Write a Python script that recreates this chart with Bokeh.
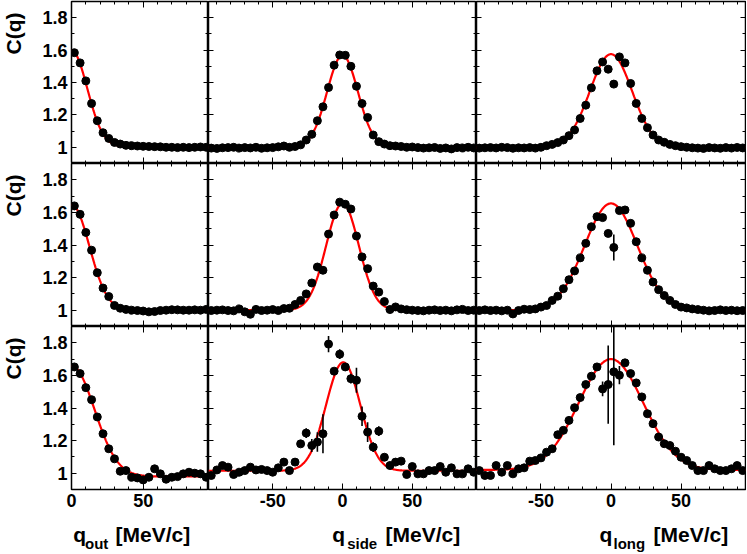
import numpy as np
from bokeh.plotting import figure
from bokeh.layouts import gridplot
from bokeh.models import Range1d, LinearAxis, FixedTicker, CustomLabelingPolicy
from bokeh.core.properties import value
from bokeh.embed import file_html
from bokeh.resources import INLINE

# ---------------- bin centres (MeV/c) ----------------
q_out = [2, 6, 10, 14, 18, 22, 26, 30, 34, 38, 42, 46,
         50, 54, 58, 62, 66, 70, 74, 78, 82, 86, 90, 94]
q_sym = [-94, -90, -86, -82, -78, -74, -70, -66, -62, -58, -54, -50,
         -46, -42, -38, -34, -30, -26, -22, -18, -14, -10, -6, -2,
         2, 6, 10, 14, 18, 22, 26, 30, 34, 38, 42, 46,
         50, 54, 58, 62, 66, 70, 74, 78, 82, 86, 90, 94]

# ---------------- ticks ----------------
x_ticks_out = [0, 50]
x_minor_out = [10, 20, 30, 40, 60, 70, 80, 90]
x_ticks_sym = [-50, 0, 50]
x_minor_sym = [-90, -80, -70, -60, -40, -30, -20, -10, 10, 20, 30, 40, 60, 70, 80, 90]
x_tick_labels = {-50: "-50", 0: "0", 50: "50"}
y_ticks = [1.0, 1.2, 1.4, 1.6, 1.8]
y_minor = [0.9, 1.1, 1.3, 1.5, 1.7, 1.9]
y_tick_labels = {1: "1", 1.2: "1.2", 1.4: "1.4", 1.6: "1.6", 1.8: "1.8"}

# ---------------- axis titles ----------------
y_title = "C(q)"
x_title_main = "q"
x_title_subs = ["out", "side", "long"]
x_title_unit = "[MeV/c]"

# ---------------- correlation functions C(q) ----------------
c_out_row1 = [1.584, 1.521, 1.41, 1.27, 1.164, 1.09, 1.055, 1.03, 1.02, 1.012, 1.01, 1.008,
              1.006, 1.005, 1.004, 1.003, 1.0, 1.0, 0.998, 1.0, 0.998, 1.0, 1.002, 1.0]
c_side_row1 = [0.995, 0.993, 0.997, 0.998, 1.0, 0.995, 0.998, 0.996, 1.0, 0.994, 0.997, 0.998,
               1.003, 1.008, 1.0, 1.005, 1.015, 1.045, 1.08, 1.164, 1.25, 1.369, 1.507, 1.57,
               1.568, 1.50, 1.377, 1.27, 1.184, 1.076, 1.035, 1.02, 1.01, 1.008, 1.005, 1.0,
               1.002, 0.998, 0.995, 0.997, 0.999, 0.993, 0.996, 0.99, 0.998, 0.996, 1.0, 0.996]
c_long_row1 = [0.995, 0.997, 0.998, 0.996, 1.0, 0.998, 0.994, 0.997, 0.996, 0.998, 0.995, 1.0,
               1.01, 1.018, 1.029, 1.045, 1.072, 1.107, 1.178, 1.26, 1.367, 1.472, 1.527, 1.482,
               1.39, 1.558, 1.521, 1.394, 1.271, 1.178, 1.121, 1.076, 1.045, 1.031, 1.018, 1.01,
               1.004, 1.0, 0.997, 0.995, 0.993, 0.998, 0.996, 0.994, 0.998, 0.995, 0.999, 0.996]

c_out_row2 = [1.64, 1.588, 1.477, 1.368, 1.23, 1.136, 1.084, 1.029, 1.012, 1.005, 1.0, 0.998,
              0.995, 0.99, 0.992, 0.998, 1.0, 1.003, 1.002, 1.0, 1.0, 1.002, 1.0, 1.005]
c_side_row2 = [0.998, 1.0, 1.002, 0.998, 0.996, 1.008, 0.99, 0.975, 1.005, 0.998, 1.0, 1.004,
               0.998, 1.01, 1.012, 1.035, 1.06, 1.10, 1.167, 1.265, 1.245, 1.467, 1.584, 1.663,
               1.65, 1.621, 1.455, 1.327, 1.255, 1.148, 1.111, 1.053, 1.004, 1.02, 1.008, 1.003,
               1.0, 0.998, 0.996, 1.0, 1.002, 0.998, 1.0, 0.996, 1.002, 1.005, 0.998, 1.0]
c_long_row2 = [0.998, 1.002, 0.998, 1.0, 0.996, 1.0, 0.977, 0.998, 1.006, 1.004, 1.008, 1.019,
               1.029, 1.06, 1.086, 1.132, 1.187, 1.241, 1.321, 1.41, 1.512, 1.574, 1.568, 1.471,
               1.385, 1.611, 1.615, 1.533, 1.42, 1.321, 1.245, 1.173, 1.126, 1.09, 1.06, 1.035,
               1.019, 1.014, 1.008, 1.004, 1.0, 0.996, 0.998, 1.002, 0.998, 1.0, 0.997, 0.998]

c_out_row3 = [1.652, 1.611, 1.525, 1.451, 1.345, 1.242, 1.15, 1.088, 1.012, 1.016, 0.975, 0.971,
              0.959, 0.975, 1.027, 0.996, 0.963, 0.975, 0.979, 0.996, 1.006, 1.0, 0.996, 0.975]
c_side_row3 = [0.986, 1.02, 1.047, 1.037, 0.992, 1.006, 1.016, 1.037, 1.02, 1.023, 1.016, 1.006,
               1.033, 1.068, 1.016, 1.068, 1.18, 1.246, 1.17, 1.191, 1.242, 1.792, 1.626, 1.73,
               1.652, 1.58, 1.57, 1.349, 1.252, 1.16, 1.258, 1.098, 1.047, 1.068, 1.074, 0.992,
               1.041, 0.996, 0.996, 1.016, 1.016, 1.041, 1.006, 1.033, 0.996, 0.996, 1.027, 1.006]
c_long_row3 = [1.016, 0.986, 0.986, 1.047, 1.006, 1.047, 0.996, 1.027, 1.033, 1.074, 1.078, 1.094,
               1.129, 1.15, 1.236, 1.263, 1.324, 1.402, 1.464, 1.544, 1.595, 1.652, 1.517, 1.544,
               1.622, 1.601, 1.677, 1.611, 1.554, 1.468, 1.365, 1.304, 1.222, 1.181, 1.17, 1.135,
               1.098, 1.078, 1.047, 1.016, 1.016, 1.047, 1.027, 1.016, 1.016, 1.027, 1.047, 1.016]

# visible error bars (bin centre, half length)
err_long_row2_q = [2]
err_long_row2 = [0.08]
err_side_row3_q = [-26, -22, -18, -14, -10, -2, 2, 6, 10, 14, 18, 22, 26]
err_side_row3 = [0.03, 0.04, 0.06, 0.12, 0.05, 0.03, 0.02, 0.03, 0.077, 0.06, 0.06, 0.03, 0.03]
err_long_row3_q = [-6, -2, 2, 6]
err_long_row3 = [0.045, 0.24, 0.45, 0.056]

# Gaussian fit parameters: (norm, lambda, sigma, centre)
fit_out = [(1.003, 0.595, 11.0, 0.0), (0.998, 0.65, 12.5, 0.0), (0.98, 0.68, 16.0, 0.0)]
fit_side = [(1.0, 0.568, 11.0, 0.0), (1.0, 0.655, 11.7, 0.0), (1.015, 0.665, 12.3, 0.5)]
fit_long = [(1.0, 0.575, 15.0, 0.0), (1.0, 0.655, 18.8, 0.0), (1.02, 0.68, 23.0, 0.0)]

FONT = "Liberation Sans"
GUTTER = 26
x_ranges = [(0, 95.6), (-96, 96), (-96, 96)]
# per column: (left border, frame width, right border)
col_geom = [(71 - GUTTER, 137, 0), (0, 268, 0), (0, 269, 1)]
# per row: (top border, frame height, bottom border)
row_geom = [(1, 162, 0), (0, 163, 0), (0, 163, 25)]
TITLE_H = 39

NO_LABELS = CustomLabelingPolicy(code="""
for (const i of indices) { indices.unset(i) }
return indices
""")


def style_axis(ax, ticks, minor, show, overrides, major_len, minor_len, standoff):
    ax.ticker = FixedTicker(ticks=ticks, minor_ticks=minor)
    ax.major_tick_in = major_len
    ax.major_tick_out = 0
    ax.minor_tick_in = minor_len
    ax.minor_tick_out = 0
    ax.major_tick_line_color = "black"
    ax.minor_tick_line_color = "black"
    ax.major_tick_line_width = 1
    ax.minor_tick_line_width = 1
    ax.axis_line_color = None
    if show:
        ax.major_label_text_font = FONT
        ax.major_label_text_font_style = "bold"
        ax.major_label_text_font_size = "18px"
        ax.major_label_text_color = "black"
        ax.major_label_standoff = standoff
        ax.major_label_overrides = overrides
    else:
        ax.major_label_policy = NO_LABELS
        ax.major_label_text_font_size = "0px"
        ax.major_label_standoff = 0


def base_fig(row, col, xr, yr):
    lb, fw, rb = col_geom[col] if col is not None else (0, GUTTER, 0)
    tb, fh, bb = row_geom[row] if row is not None else (0, TITLE_H, 0)
    p = figure(width=lb + fw + rb, height=tb + fh + bb, output_backend="svg",
               toolbar_location=None, x_range=Range1d(*xr), y_range=Range1d(*yr),
               x_axis_type=None, y_axis_type=None,
               min_border_left=lb, min_border_right=rb,
               min_border_top=tb, min_border_bottom=bb)
    p.background_fill_color = "white"
    p.border_fill_color = "white"
    p.grid.visible = False
    return p


def panel(row, col, q, c, fit, eq=None, ev=None):
    xr = x_ranges[col]
    p = base_fig(row, col, xr, (0.9, 1.9))
    p.outline_line_color = "black"
    p.outline_line_width = 1.5

    xt = x_ticks_out if col == 0 else x_ticks_sym
    xm = x_minor_out if col == 0 else x_minor_sym
    for loc in ("below", "above"):
        ax = LinearAxis()
        style_axis(ax, xt, xm, loc == "below" and row == 2, x_tick_labels, 6, 3, 4)
        p.add_layout(ax, loc)
    for loc in ("left", "right"):
        ax = LinearAxis()
        style_axis(ax, y_ticks, y_minor, loc == "left" and col == 0, y_tick_labels, 5, 3, 4)
        p.add_layout(ax, loc)

    # fit curve
    norm, lam, sig, cen = fit
    qq = np.linspace(xr[0], xr[1], 400)
    cc = norm + lam * np.exp(-(qq - cen) ** 2 / (2 * sig ** 2))
    p.line(qq, cc, line_color="#ff0000", line_width=2.2)

    # error bars
    if eq is not None:
        lookup = dict(zip(q, c))
        y0 = [lookup[k] - e for k, e in zip(eq, ev)]
        y1 = [lookup[k] + e for k, e in zip(eq, ev)]
        p.segment(x0=eq, y0=y0, x1=eq, y1=y1, line_color="black", line_width=1.6)

    p.scatter(q, c, size=8, fill_color="black", line_color="black")
    return p


def ytitle_fig(row):
    fh = row_geom[row][1]
    t = base_fig(row, None, (0, GUTTER), (0, fh))
    t.outline_line_color = None
    t.text(x=[12.8], y=[fh - 11], text=[y_title], angle=np.pi / 2,
           text_align="right", text_baseline="middle", text_font=value(FONT),
           text_font_style="bold", text_font_size="21px", text_color="black")
    return t


# x positions (pixels from each panel frame's left edge): q, subscript, unit
title_pos = [(1.7, 13.5, 44), (123.7, 138.7, 177), (123, 137, 177)]


def xtitle_fig(col):
    fw = col_geom[col][1]
    t = base_fig(None, col, (0, fw), (0, TITLE_H))
    t.outline_line_color = None
    xq, xs, xu = title_pos[col]
    t.text(x=[xq, xu], y=[19, 19], text=[x_title_main, x_title_unit],
           text_align="left", text_baseline="alphabetic", text_font=value(FONT),
           text_font_style="bold", text_font_size="21px", text_color="black")
    t.text(x=[xs], y=[10.5], text=[x_title_subs[col]],
           text_align="left", text_baseline="alphabetic", text_font=value(FONT),
           text_font_style="bold", text_font_size="15px", text_color="black")
    return t


rows = [
    [ytitle_fig(0),
     panel(0, 0, q_out, c_out_row1, fit_out[0]),
     panel(0, 1, q_sym, c_side_row1, fit_side[0]),
     panel(0, 2, q_sym, c_long_row1, fit_long[0])],
    [ytitle_fig(1),
     panel(1, 0, q_out, c_out_row2, fit_out[1]),
     panel(1, 1, q_sym, c_side_row2, fit_side[1]),
     panel(1, 2, q_sym, c_long_row2, fit_long[1], err_long_row2_q, err_long_row2)],
    [ytitle_fig(2),
     panel(2, 0, q_out, c_out_row3, fit_out[2]),
     panel(2, 1, q_sym, c_side_row3, fit_side[2], err_side_row3_q, err_side_row3),
     panel(2, 2, q_sym, c_long_row3, fit_long[2], err_long_row3_q, err_long_row3)],
    [None, xtitle_fig(0), xtitle_fig(1), xtitle_fig(2)],
]

grid = gridplot(rows, toolbar_location=None)
open("out.html", "w").write(file_html(grid, INLINE))
